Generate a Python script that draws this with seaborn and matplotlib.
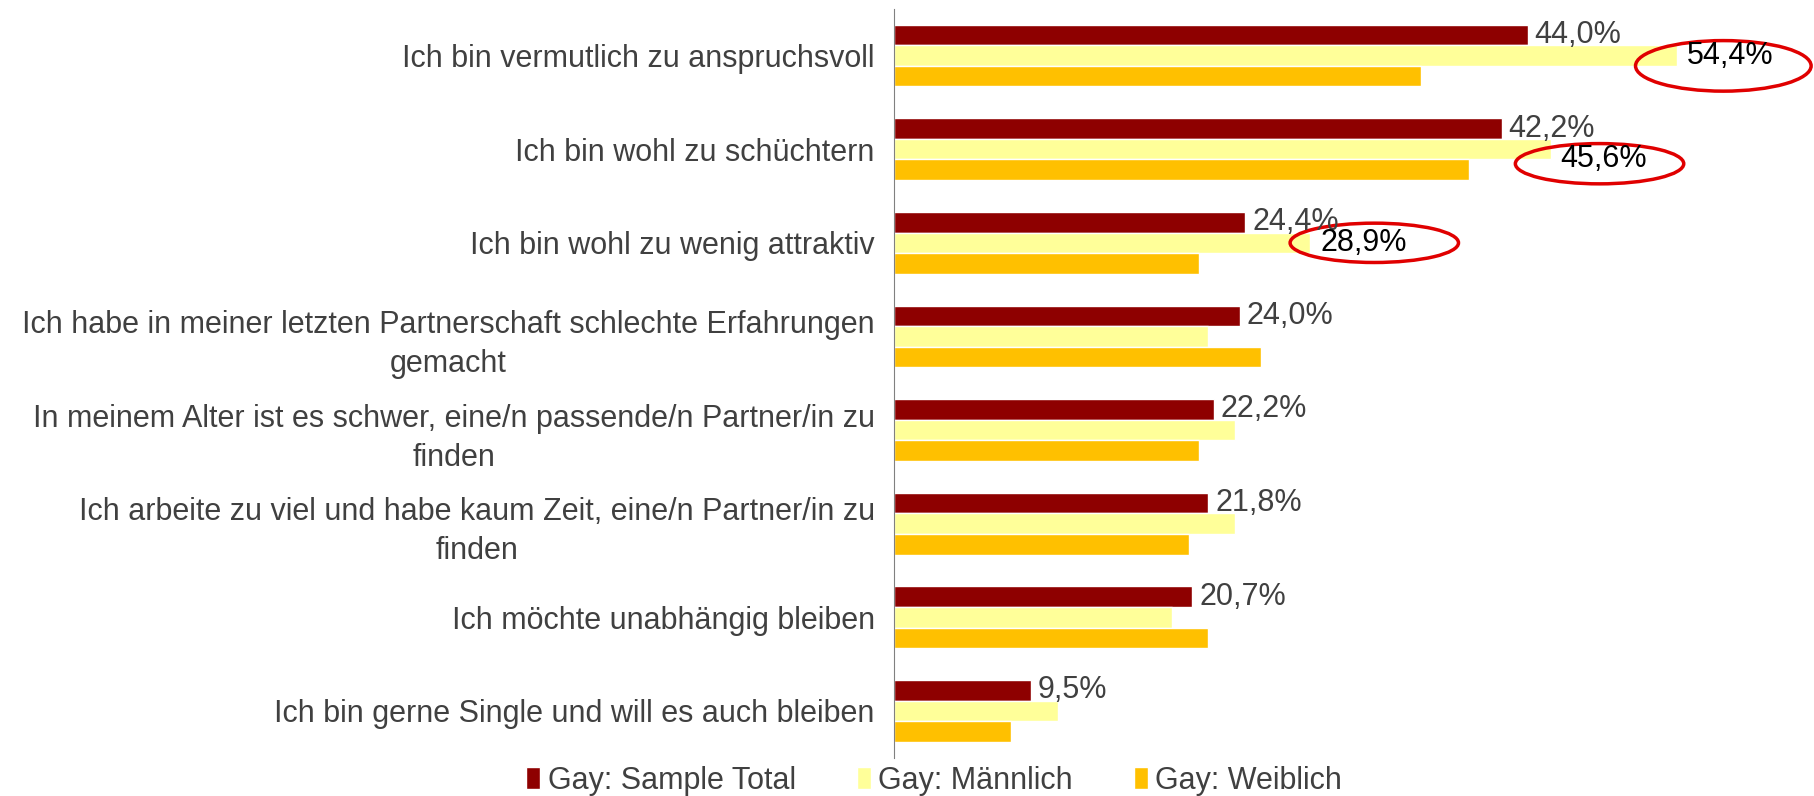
import pandas as pd
import matplotlib.pyplot as plt
import seaborn as sns
from matplotlib.patches import Ellipse

# Aussagen (von oben nach unten)
aussagen = [
    'Ich bin vermutlich zu anspruchsvoll',
    'Ich bin wohl zu schüchtern',
    'Ich bin wohl zu wenig attraktiv',
    'Ich habe in meiner letzten Partnerschaft schlechte Erfahrungen\ngemacht',
    'In meinem Alter ist es schwer, eine/n passende/n Partner/in zu\nfinden',
    'Ich arbeite zu viel und habe kaum Zeit, eine/n Partner/in zu\nfinden',
    'Ich möchte unabhängig bleiben',
    'Ich bin gerne Single und will es auch bleiben',
]
gruppen = ['Gay: Sample Total', 'Gay: Männlich', 'Gay: Weiblich']
sample_total = [44.0, 42.2, 24.4, 24.0, 22.2, 21.8, 20.7, 9.5]
maennlich = [54.4, 45.6, 28.9, 21.8, 23.7, 23.7, 19.3, 11.4]
weiblich = [36.6, 39.9, 21.2, 25.5, 21.2, 20.5, 21.8, 8.1]
farben = ['#8E0000', '#FFFF99', '#FFC000']

# rote Markierungen um die Top-3-Werte (Männlich): Versatz x, Versatz y, Breite, Höhe
kreise = [(3.2, 0.11, 12.2, 0.54), (3.4, 0.155, 11.7, 0.43), (4.45, 0.0, 11.7, 0.42)]
text_dy = [0.0, 0.11, 0.0]

df = pd.DataFrame({
    'Aussage': aussagen * 3,
    'Gruppe': [g for g in gruppen for _ in aussagen],
    'Wert': sample_total + maennlich + weiblich,
})

sns.set_style('white')
plt.rcParams['font.family'] = ['Liberation Sans', 'DejaVu Sans']
textfarbe = '#404040'
fs = 22

fig = plt.figure(figsize=(18.14, 7.96), dpi=100)
ax = fig.add_axes([0.493, 0.048, 0.507, 0.941])

sns.barplot(data=df, y='Aussage', x='Wert', hue='Gruppe', hue_order=gruppen,
            order=aussagen, palette=farben, saturation=1, width=0.66,
            orient='h', ax=ax)

ax.set_xlim(0, 63.9)
ax.set_ylim(len(aussagen) - 0.5, -0.5)
ax.set_xlabel('')
ax.set_ylabel('')
ax.set_xticks([])
sns.despine(ax=ax, top=True, right=True, bottom=True, left=False)
ax.spines['left'].set_color('#808080')

# Ticks an den Kategoriegrenzen, Beschriftung in der Mitte
ax.set_yticks([i - 0.5 for i in range(len(aussagen) + 1)], minor=True)
ax.tick_params(axis='y', which='minor', length=7, color='#808080', direction='out')
ax.tick_params(axis='y', which='major', length=0, pad=14, labelsize=fs,
               labelcolor=textfarbe)
for lbl in ax.get_yticklabels():
    lbl.set_multialignment('center')
    lbl.set_linespacing(1.4)

# Werte der Sample-Total-Balken
ax.bar_label(ax.containers[0],
             labels=[f'{v:.1f}%'.replace('.', ',') for v in sample_total],
             padding=5, fontsize=fs, color=textfarbe)

# Eingekreiste Werte (Männlich, Top 3)
for bar, v, (dx, dy, w, h), tdy in zip(ax.containers[1], maennlich, kreise, text_dy):
    yc = bar.get_y() + bar.get_height() / 2
    ax.text(v + 3.7, yc + tdy, f'{v:.1f}%'.replace('.', ','), ha='center',
            va='center', fontsize=fs, color='black')
    ax.add_patch(Ellipse((v + dx, yc + dy), width=w, height=h, fill=False,
                         edgecolor='#E00000', linewidth=2.5, clip_on=False))

handles, labels = ax.get_legend_handles_labels()
ax.legend(handles, labels, loc='center', bbox_to_anchor=(0.515, 0.019),
          bbox_transform=fig.transFigure, ncol=3, frameon=False, fontsize=fs,
          handlelength=0.45, handleheight=0.75, handletextpad=0.25,
          columnspacing=2.0, labelcolor=textfarbe, borderpad=0)

plt.savefig('out.png', dpi=100)
plt.close()
